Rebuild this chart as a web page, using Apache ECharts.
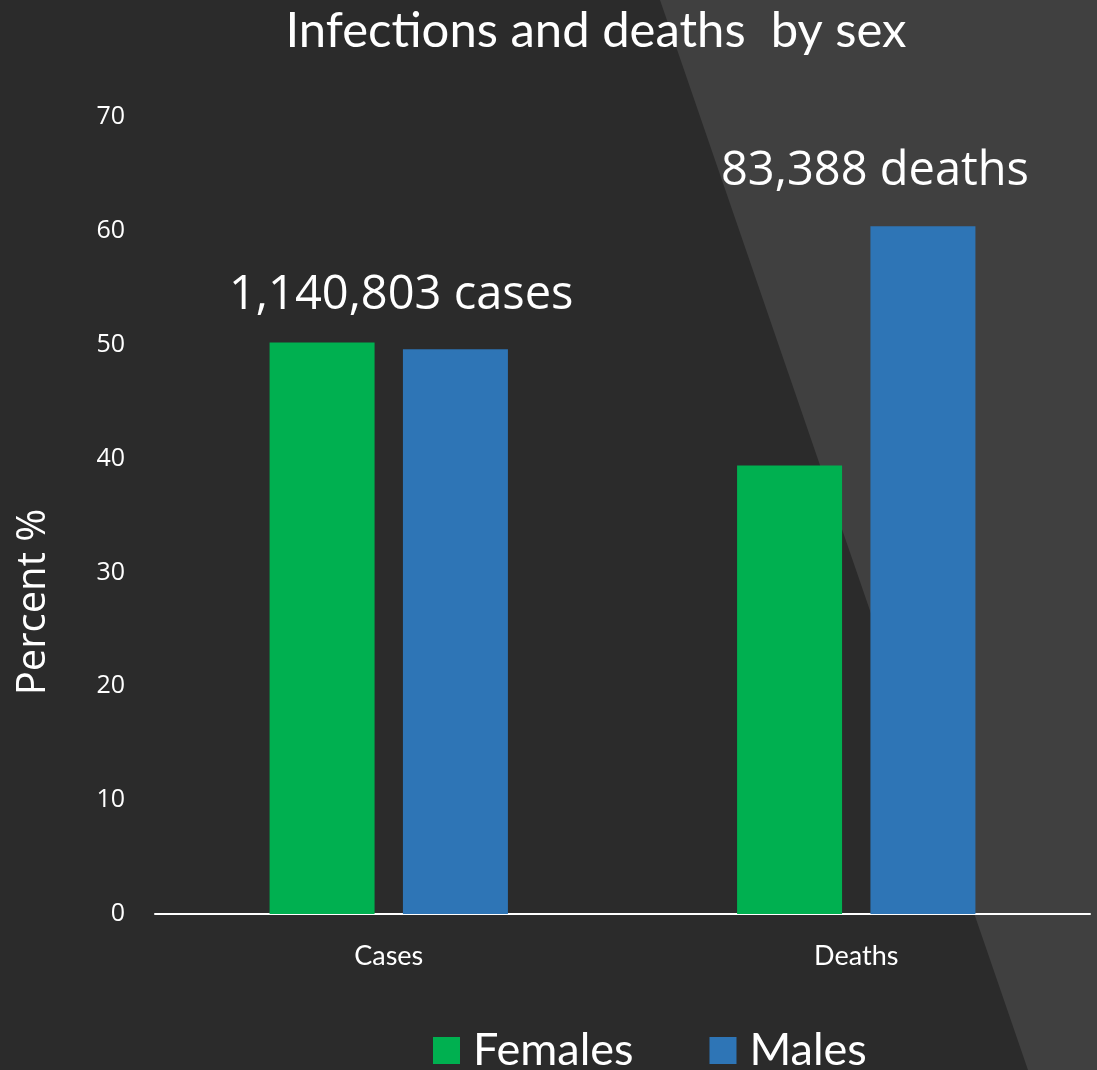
<!DOCTYPE html>
<html>
<head>
<meta charset="utf-8">
<script src="https://cdn.jsdelivr.net/npm/echarts@6/dist/echarts.min.js"></script>
<style>
  html, body { margin: 0; padding: 0; background: #2b2b2b; }
  #chart { width: 1097px; height: 1070px; }
</style>
</head>
<body>
<div id="chart"></div>
<script>
// 数据
const categories = ['Cases', 'Deaths']
const females = [50.2, 39.4]
const males = [49.6, 60.4]
const yTicks = [0, 10, 20, 30, 40, 50, 60, 70]
const notes = ['1,140,803 cases', '83,388 deaths']

const chart = echarts.init(document.getElementById('chart'))

const option = {
  backgroundColor: '#2b2b2b',
  animation: false,
  title: {
    text: 'Infections and deaths  by sex',
    left: 591,
    top: 2,
    textAlign: 'center',
    textStyle: {
      color: '#ffffff',
      fontFamily: 'Lato',
      fontWeight: 'normal',
      fontSize: 49,
    },
  },
  graphic: [
    {
      type: 'polygon',
      z: -10,
      silent: true,
      shape: { points: [[660, 0], [1097, 0], [1097, 1070], [1028, 1070]] },
      style: { fill: '#404040' },
    },
    {
      type: 'text',
      left: 229,
      top: 272,
      style: { text: notes[0], fill: '#ffffff', font: '47px "Open Sans"' },
    },
    {
      type: 'text',
      left: 721,
      top: 148,
      style: { text: notes[1], fill: '#ffffff', font: '47px "Open Sans"' },
    },
    {
      type: 'text',
      x: 34,
      y: 602,
      rotation: Math.PI / 2,
      style: {
        text: 'Percent %',
        fill: '#ffffff',
        font: '40px "Open Sans"',
        align: 'center',
        verticalAlign: 'middle',
      },
    },
  ],
  legend: {
    bottom: -8,
    left: 428,
    itemWidth: 27,
    itemHeight: 27,
    itemGap: 76,
    icon: 'rect',
    textStyle: {
      color: '#ffffff',
      fontFamily: 'Lato',
      fontSize: 45,
      padding: [0, 0, 0, 8],
    },
    data: ['Females', 'Males'],
  },
  grid: { left: 155, right: 7, top: 117, bottom: 156 },
  xAxis: {
    type: 'category',
    data: categories,
    axisLine: { lineStyle: { color: '#ffffff', width: 2 } },
    axisTick: { show: false },
    axisLabel: {
      color: '#ffffff',
      fontFamily: 'Lato',
      fontSize: 27,
      margin: 29,
    },
  },
  yAxis: {
    type: 'value',
    min: yTicks[0],
    max: yTicks[yTicks.length - 1],
    interval: 10,
    splitLine: { show: false },
    axisLine: { show: false },
    axisTick: { show: false },
    axisLabel: {
      color: '#ffffff',
      fontFamily: 'Open Sans',
      fontSize: 25,
      margin: 30,
    },
  },
  series: [
    {
      name: 'Females',
      type: 'bar',
      data: females,
      barWidth: 105,
      barGap: '27%',
      itemStyle: { color: '#00b050' },
    },
    {
      name: 'Males',
      type: 'bar',
      data: males,
      barWidth: 105,
      itemStyle: { color: '#2e75b6' },
    },
  ],
}

chart.setOption(option)
</script>
</body>
</html>
